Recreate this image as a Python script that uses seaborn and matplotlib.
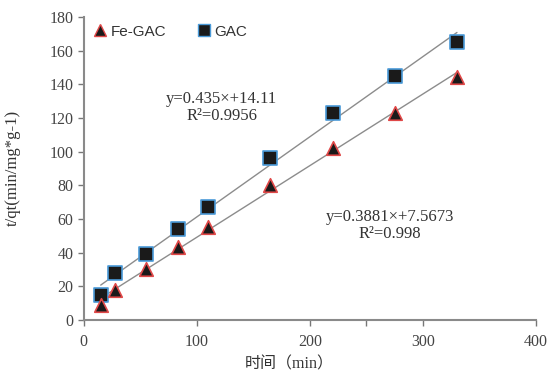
import numpy as np
import pandas as pd
import matplotlib
matplotlib.use("Agg")
import matplotlib.pyplot as plt
from matplotlib.ticker import MultipleLocator
from matplotlib.lines import Line2D
import seaborn as sns

# data
time_min = [15, 28, 55, 83, 110, 165, 220, 275, 330]
gac = [15, 28, 39, 54, 67, 96, 123, 145, 165]
fe_gac = [9, 18, 30, 43, 55, 80, 102, 123, 144]

df = pd.DataFrame({'t': time_min, 'GAC': gac, 'Fe-GAC': fe_gac})

sns.set_style("white")
plt.rcParams['font.family'] = ['Liberation Serif', 'Noto Sans CJK SC']

fig = plt.figure(figsize=(5.51, 3.75), dpi=100)
ax = fig.add_axes([0.152, 0.147, 0.821, 0.808])

#fitted lines
sns.regplot(data=df, x='t', y='GAC', scatter=False, ci=None, ax=ax,
            line_kws={'color': '#8c8c8c', 'lw': 1})
sns.regplot(data=df, x='t', y='Fe-GAC', scatter=False, ci=None, ax=ax,
            line_kws={'color': '#8c8c8c', 'lw': 1})

#points
sns.scatterplot(data=df, x='t', y='GAC', marker='s', s=95, color='#1a1a1a',
                edgecolor='#4a9ad8', linewidth=1.2, ax=ax, zorder=3)
sns.scatterplot(data=df, x='t', y='Fe-GAC', marker='^', s=95, color='#1a1a1a',
                edgecolor='#e04848', linewidth=1.2, ax=ax, zorder=3)

ax.set_xlim(0, 400)
ax.set_ylim(0, 180)
ax.xaxis.set_major_locator(MultipleLocator(100))
ax.yaxis.set_major_locator(MultipleLocator(20))
ax.set_xticks([250], minor=True)
ax.tick_params(axis='both', which='both', direction='out', length=4, width=1,
               color='#777777', labelsize=11.5, labelcolor='#444444', bottom=True, left=True)
ax.tick_params(axis='x', pad=6)

for side in ['top', 'right']:
    ax.spines[side].set_visible(False)
for side in ['left', 'bottom']:
    ax.spines[side].set_color('#8a8a8a')
    ax.spines[side].set_linewidth(1.5)

ax.set_xlabel('时间（min）', fontsize=11.5, color='#333333')
ax.set_ylabel('t/qt(min/mg*g-1)', fontsize=12, color='#333333')
ax.xaxis.set_label_coords((289 - 84) / 452, -0.12)
ax.yaxis.set_label_coords(-0.14, 0.5)

#equations
ax.text(122, 126, 'y=0.435×+14.11\nR²=0.9956', ha='center', va='center',
        fontsize=12, color='#333333', linespacing=1.05)
ax.text(271, 56, 'y=0.3881×+7.5673\nR²=0.998', ha='center', va='center',
        fontsize=12, color='#333333', linespacing=1.1)

#legend
handles = [Line2D([], [], marker='^', ls='none', markersize=8, markerfacecolor='#1a1a1a',
                  markeredgecolor='#e04848', markeredgewidth=1),
           Line2D([], [], marker='s', ls='none', markersize=8, markerfacecolor='#1a1a1a',
                  markeredgecolor='#4a9ad8', markeredgewidth=1)]
ax.legend(handles, ['Fe-GAC', 'GAC'], ncol=2, loc='upper left', bbox_to_anchor=(-0.015, 1.02),
          frameon=False, handletextpad=0.1, columnspacing=1.85, handlelength=1.2,
          prop={'family': 'Liberation Sans', 'size': 11}, labelcolor='#333333')

plt.savefig('out.png', dpi=100)
